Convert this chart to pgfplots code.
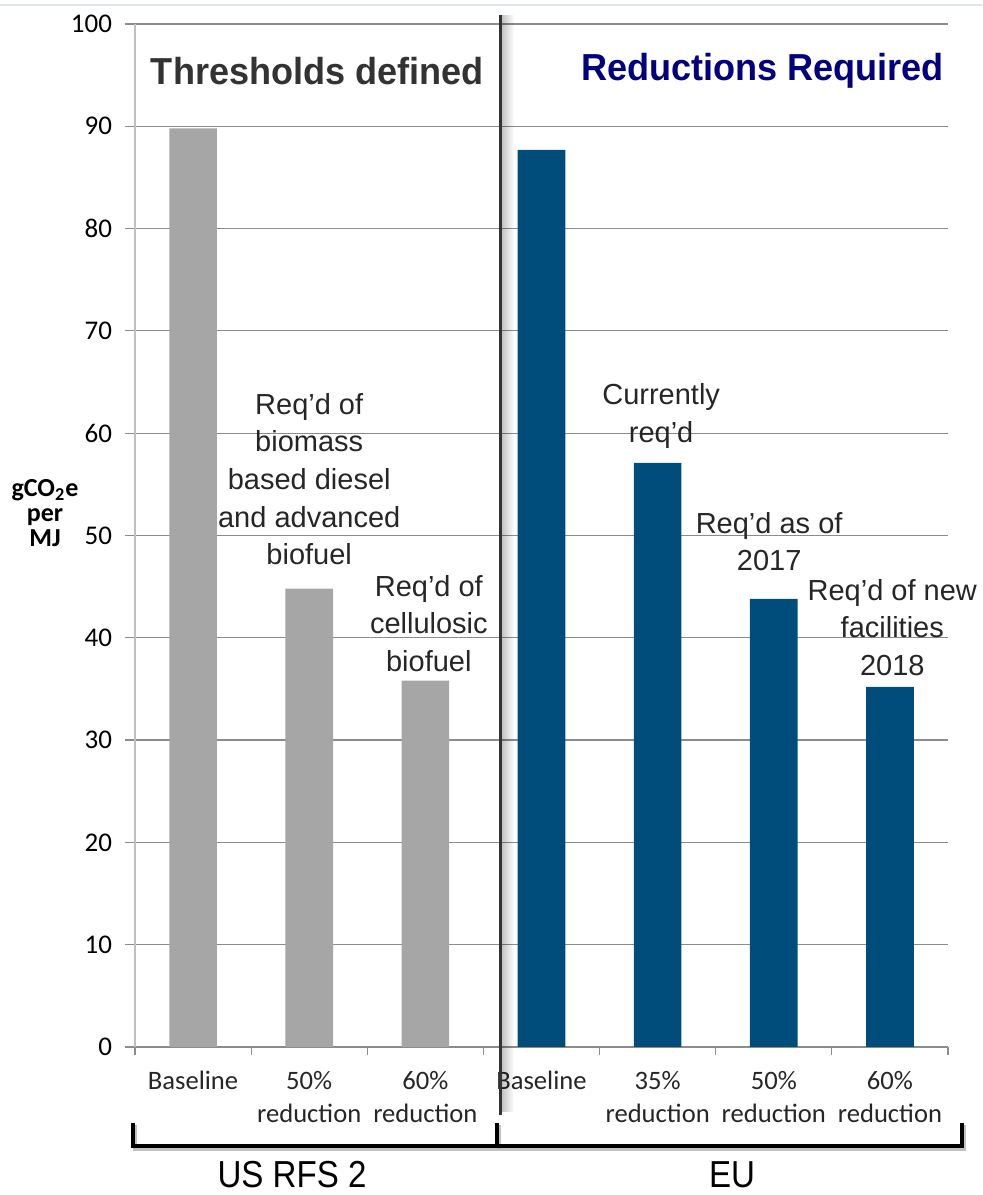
\documentclass[border=0pt]{standalone}
\usepackage{fontspec}
\setmainfont{Carlito}
\newfontfamily\arialf{Liberation Sans}
\usepackage{graphicx}
\usepackage{pgfplots}
\pgfplotsset{compat=1.18}
\definecolor{barblue}{RGB}{0,77,124}
\definecolor{bargray}{RGB}{166,166,166}
\definecolor{gridc}{RGB}{140,140,140}
\definecolor{navyt}{RGB}{0,0,128}
\definecolor{darkt}{RGB}{51,51,51}
\definecolor{topline}{RGB}{222,229,238}

\begin{document}
\begin{tikzpicture}[px/.style={x=0.5bp,y=-0.5bp,shift={(-135,-1047)}},
  annot/.style={font=\arialf\fontsize{14.5bp}{18.8bp}\selectfont, align=center, text=black!85, inner sep=0pt}]
\begin{scope}[px]
\path[use as bounding box] (0,0) rectangle (982,1195);
\draw[topline, line width=1bp] (0,5) -- (982,5);
\end{scope}
\begin{axis}[
  at={(0,0)}, anchor=south west,
  scale only axis, width=406.5bp, height=511.5bp,
  xmin=-0.5, xmax=6.5, ymin=0, ymax=100,
  ytick={0,10,...,100},
  xtick={0,...,6},
  xticklabels={Baseline, 50\%\\reduction, 60\%\\reduction, Baseline, 35\%\\reduction, 50\%\\reduction, 60\%\\reduction},
  minor xtick={-0.5,0.5,...,6.5},
  axis x line*=bottom, axis y line*=left,
  x axis line style={draw=gridc,line width=0.6bp,-},
  y axis line style={draw=black!25,line width=0.6bp,-},
  ymajorgrids, grid style={gridc, line width=0.6bp},
  tick align=outside, major tick length=5bp, minor tick length=4bp,
  major x tick style={draw=none},
  minor x tick style={draw=gridc, line width=0.6bp},
  ytick style={draw=gridc, line width=0.6bp},
  /pgf/number format/assume math mode=true,
  yticklabel style={font=\fontsize{13.5bp}{15bp}\selectfont, text=black, xshift=-3bp},
  xticklabel style={font=\fontsize{13.3bp}{16.8bp}\selectfont, align=center, text=black!85, yshift=-3.5bp},
  ylabel={gCO\textsubscript{2}e\\per\\MJ},
  ylabel style={rotate=-90, align=center, font=\bfseries\fontsize{13bp}{12.5bp}\selectfont,
    at={(axis description cs:-0.1107,0.522)}, anchor=center},
  clip=false,
]
\addplot[ybar, bar width=0.41, bar shift=0pt, fill=bargray, draw=none] coordinates {(0,89.8) (1,44.8) (2,35.8)};
\addplot[ybar, bar width=0.41, bar shift=0pt, fill=barblue, draw=none] coordinates {(3,87.7) (4,57.1) (5,43.8) (6,35.2)};

\node[annot] at (axis cs:1,55.5) {Req’d of\\biomass\\based diesel\\and advanced\\biofuel};
\node[annot] at (axis cs:2.03,41.4) {Req’d of\\cellulosic\\biofuel};
\node[annot] at (axis cs:4.03,61.7) {Currently\\req’d};
\node[annot] at (axis cs:4.96,49.4) {Req’d as of\\2017};
\node[annot] at (axis cs:6.02,41.0) {Req’d of new\\facilities\\2018};

\node[font=\arialf\bfseries\fontsize{18.8bp}{20bp}\selectfont, text=darkt] at (axis cs:1.071,95.4) {\scalebox{0.96}[1]{Thresholds defined}};
\node[font=\arialf\bfseries\fontsize{18.8bp}{20bp}\selectfont, text=navyt] at (axis cs:4.903,95.4) {\scalebox{0.96}[1]{Reductions Required}};
\end{axis}
\begin{scope}[px]
\foreach \i in {1,...,12} {
  \pgfmathsetmacro{\op}{0.25*(1-\i/13)}
  \draw[black, opacity=\op, line width=0.5bp] (501+\i,15) -- (501+\i,1112);
}
\draw[black!80, line width=1.5bp] (500,15) -- (500,1115);
\draw[black!40, opacity=0.6, line width=1.6bp] (135,1125) -- (135,1149) -- (964,1149) -- (964,1125);
\draw[black!40, opacity=0.6, line width=1.6bp] (499,1125) -- (499,1149);
\draw[black, line width=1.6bp] (133,1123) -- (133,1146) -- (962,1146) -- (962,1123);
\draw[black, line width=1.6bp] (497,1123) -- (497,1148);
\node[font=\arialf\fontsize{18.8bp}{20bp}\selectfont] at (292,1175) {\scalebox{0.88}[1]{US RFS 2}};
\node[font=\arialf\fontsize{18.8bp}{20bp}\selectfont] at (732,1175) {\scalebox{0.88}[1]{EU}};
\end{scope}
\end{tikzpicture}
\end{document}
